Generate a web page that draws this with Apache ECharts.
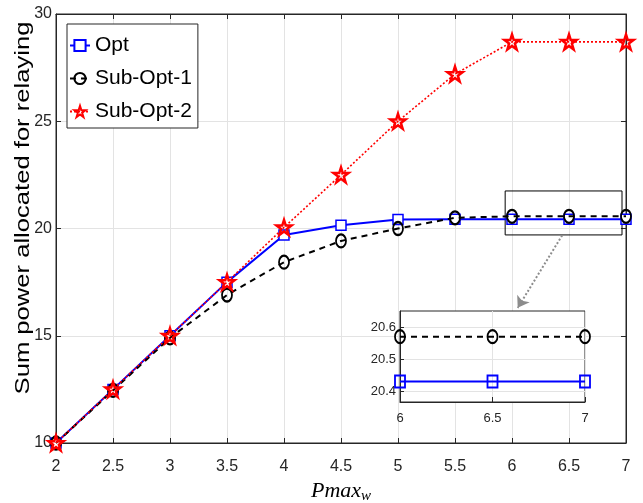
<!DOCTYPE html>
<html>
<head>
<meta charset="utf-8">
<script src="https://cdn.jsdelivr.net/npm/echarts@6/dist/echarts.min.js"></script>
<style>
  html, body { margin: 0; padding: 0; background: #fff; }
  #chart { width: 643px; height: 503px; }
</style>
</head>
<body>
<div id="chart"></div>
<script>
// Maximum relay power Pmax_w
const pmax = [2, 2.5, 3, 3.5, 4, 4.5, 5, 5.5, 6, 6.5, 7];
// Sum power allocated for relaying, per scheme
const optValues = [10, 12.5, 15, 17.5, 19.7, 20.15, 20.42, 20.43, 20.43, 20.43, 20.43];
const subOpt1Values = [10, 12.45, 14.9, 16.9, 18.43, 19.42, 20.0, 20.5, 20.57, 20.57, 20.57];
const subOpt2Values = [10, 12.5, 15, 17.5, 20.05, 22.5, 25.0, 27.2, 28.7, 28.7, 28.7];
// Zoomed window shown in the inset
const insetFrom = 6;
const insetYTicks = [20.4, 20.5, 20.6];
const zoomBox = [[5.94, 21.75], [6.965, 19.7]];
const zoomArrow = [[6.44, 19.68], [6.05, 16.3]];

const pairs = (ys) => pmax.map((x, i) => [x, ys[i]]);
const insetPairs = (ys) => pairs(ys).filter(p => p[0] >= insetFrom);

const FONT = 'Liberation Sans, Arial, sans-serif';
const AX = '#262626';
const GRID = '#e3e3e3';
const STAR = 'path://M50,2 L61,36 L97,36 L68,57 L79,92 L50,71 L21,92 L32,57 L3,36 L39,36 Z';

const blue = '#0000ff', black = '#000000', red = '#ff0000';

function axisBase(extra) {
  return Object.assign({
    axisLine: { show: true, onZero: false, lineStyle: { color: AX, width: 1 } },
    axisTick: { show: true, inside: true, length: 5, lineStyle: { color: AX } },
    axisLabel: { color: AX, fontFamily: FONT, fontSize: 16 },
    splitLine: { show: true, lineStyle: { color: GRID, width: 1 } }
  }, extra);
}

const chart = echarts.init(document.getElementById('chart'), null, { renderer: 'canvas' });

chart.setOption({
  backgroundColor: '#ffffff',
  animation: false,
  grid: [
    { left: 56, right: 17, top: 14, bottom: 60, outerBoundsMode: 'none', containLabel: false,
      show: true, borderColor: AX, borderWidth: 1, backgroundColor: 'transparent' },
    { left: 400, width: 185, top: 311, height: 91, outerBoundsMode: 'none', containLabel: false,
      show: true, borderColor: AX, borderWidth: 1, backgroundColor: '#ffffff', z: 5 }
  ],
  xAxis: [
    axisBase({
      type: 'value', gridIndex: 0, min: 2, max: 7, interval: 0.5,
      axisLabel: { color: AX, fontFamily: FONT, fontSize: 16, margin: 16 },
      name: '{i|Pmax}{s|w}', nameLocation: 'middle', nameGap: 35,
      nameTextStyle: {
        rich: {
          i: { fontFamily: 'Liberation Serif, serif', fontStyle: 'italic', fontSize: 22, color: '#000' },
          s: { fontFamily: 'Liberation Serif, serif', fontStyle: 'italic', fontSize: 15, color: '#000', padding: [10, 0, 0, 0] }
        }
      }
    }),
    axisBase({
      type: 'value', gridIndex: 1, min: 6, max: 7, interval: 0.5, z: 6,
      axisLabel: { color: AX, fontFamily: FONT, fontSize: 13, margin: 10 }
    }),
    // tick marks along the top edge
    axisBase({
      type: 'value', gridIndex: 0, position: 'top', min: 2, max: 7, interval: 0.5,
      axisLabel: { show: false }, splitLine: { show: false }
    })
  ],
  yAxis: [
    axisBase({
      type: 'value', gridIndex: 0, min: 10, max: 30, interval: 5,
      axisLabel: { color: AX, fontFamily: FONT, fontSize: 16, margin: 4 }
    }),
    axisBase({
      type: 'value', gridIndex: 1, min: 20.366, max: 20.65, z: 6,
      axisTick: { show: true, inside: true, length: 4, lineStyle: { color: AX }, customValues: insetYTicks },
      axisLabel: { color: AX, fontFamily: FONT, fontSize: 13, margin: 4, customValues: insetYTicks,
        formatter: v => v.toFixed(1) },
      splitLine: { show: true, lineStyle: { color: GRID } }
    }),
    // tick marks along the right edge
    axisBase({
      type: 'value', gridIndex: 0, position: 'right', min: 10, max: 30, interval: 5,
      axisLabel: { show: false }, splitLine: { show: false }
    })
  ],
  legend: {
    left: 67, top: 24, orient: 'vertical',
    data: ['Opt', 'Sub-Opt-1', 'Sub-Opt-2'],
    backgroundColor: '#ffffff',
    borderColor: AX, borderWidth: 1,
    padding: [11, 6, 6, 2],
    itemGap: 12, itemWidth: 20, itemHeight: 14,
    textStyle: { fontFamily: FONT, fontSize: 21, color: '#000' },
    z: 10
  },
  graphic: [
    {
      type: 'text', x: 23, y: 208, rotation: Math.PI / 2, scaleX: 1.28,
      style: {
        text: 'Sum power allocated for relaying',
        fontFamily: FONT, fontSize: 20, fill: '#000',
        textAlign: 'center', textVerticalAlign: 'middle'
      }
    }
  ],
  series: [
    {
      name: 'Opt', type: 'line', xAxisIndex: 0, yAxisIndex: 0,
      data: pairs(optValues),
      symbol: 'rect', symbolSize: 10,
      itemStyle: { color: '#ffffff', borderColor: blue, borderWidth: 1.5 },
      lineStyle: { color: blue, width: 2 },
      color: blue, z: 3,
      markArea: {
        silent: true,
        itemStyle: { color: 'rgba(0,0,0,0)', borderColor: '#000', borderWidth: 1 },
        data: [[{ coord: zoomBox[0] }, { coord: zoomBox[1] }]]
      },
      markLine: {
        silent: true, symbol: ['none', 'arrow'], symbolSize: 11,
        label: { show: false },
        lineStyle: { color: '#8c8c8c', width: 2, type: 'dotted', opacity: 1 },
        itemStyle: { color: '#8c8c8c' },
        data: [[{ coord: zoomArrow[0] }, { coord: zoomArrow[1] }]]
      }
    },
    {
      name: 'Sub-Opt-1', type: 'line', xAxisIndex: 0, yAxisIndex: 0,
      data: pairs(subOpt1Values),
      symbol: 'circle', symbolSize: [10, 13],
      itemStyle: { color: 'rgba(255,255,255,0)', borderColor: black, borderWidth: 2 },
      lineStyle: { color: black, width: 2, type: [6, 5] },
      color: black, z: 4
    },
    {
      name: 'Sub-Opt-2', type: 'line', xAxisIndex: 0, yAxisIndex: 0,
      data: pairs(subOpt2Values),
      symbol: STAR, symbolSize: [15, 15],
      itemStyle: { color: 'rgba(255,255,255,0)', borderColor: red, borderWidth: 2.5 },
      lineStyle: { color: red, width: 1.6, type: [2, 2] },
      color: red, z: 5
    },
    {
      name: 'Opt (inset)', type: 'line', xAxisIndex: 1, yAxisIndex: 1,
      data: insetPairs(optValues),
      symbol: 'rect', symbolSize: [10, 12],
      itemStyle: { color: 'rgba(255,255,255,0)', borderColor: blue, borderWidth: 2 },
      lineStyle: { color: blue, width: 2 },
      z: 7
    },
    {
      name: 'Sub-Opt-1 (inset)', type: 'line', xAxisIndex: 1, yAxisIndex: 1,
      data: insetPairs(subOpt1Values),
      symbol: 'circle', symbolSize: [10, 13],
      itemStyle: { color: 'rgba(255,255,255,0)', borderColor: black, borderWidth: 2 },
      lineStyle: { color: black, width: 2, type: [6, 5] },
      z: 7
    }
  ]
});
</script>
</body>
</html>
